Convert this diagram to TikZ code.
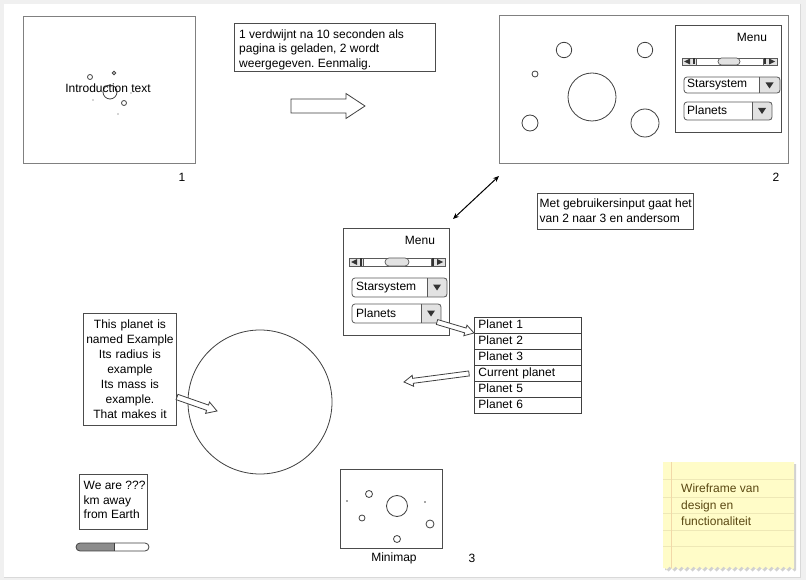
\documentclass[tikz,border=0pt]{standalone}
\usepackage{fontspec}
\setmainfont{Liberation Sans}
\usetikzlibrary{calc,arrows.meta,decorations.pathmorphing}
\definecolor{btngray}{HTML}{E2E2E2}
\definecolor{notefill}{HTML}{FFFCC8}
\definecolor{noteline}{HTML}{EEE8B6}
\definecolor{notemargin}{HTML}{F2D8A8}
\definecolor{notetext}{HTML}{5A4812}
\frenchspacing
% hollow block arrow: from, to, shaft half width, head half width, head length
\newcommand{\hollowarrow}[5]{%
  \coordinate (ha-h) at ($(#2)!#5!(#1)$);
  \draw[black!75,fill=white,line width=0.8pt,line join=miter]
    ($(#1)!#3!90:(#2)$) -- ($(ha-h)!#3!-90:(#1)$) -- ($(ha-h)!#4!-90:(#1)$) -- (#2)
    -- ($(ha-h)!#4!90:(#1)$) -- ($(ha-h)!#3!90:(#1)$) -- ($(#1)!#3!-90:(#2)$) -- cycle;
}

\begin{document}
\begin{tikzpicture}[x=1pt,y=-1pt,font=\fontsize{12}{14.5}\selectfont]
\useasboundingbox (0,0) rectangle (806,580);
%page
\fill[black!6] (0,0) rectangle (806,580);
\fill[white] (4,4) rectangle (800,577);
\draw[black!15] (800,4) -- (800,577) -- (4,577);
\tikzstyle{screen}=[rectangle,draw=black!50,line width=1.4pt,anchor=north west,inner sep=0pt]
\tikzstyle{box}=[rectangle,draw=black!70,line width=0.9pt,anchor=north west,inner sep=0pt]
\tikzstyle{txt}=[anchor=north west,inner sep=0pt,align=left]
\tikzstyle{planet}=[draw=black!75,line width=0.8pt]
\tikzstyle{btn}=[draw=black!65,line width=0.7pt,fill=btngray]
\tikzstyle{drop}=[draw=black!65,line width=0.8pt,rounded corners=3pt]
\tikzstyle{listrow}=[rectangle,draw=black!75,line width=0.9pt,anchor=north west,inner xsep=4pt,inner ysep=2pt,text height=9pt,text depth=3pt,text width=99pt,minimum height=16pt,align=left]
\tikzstyle{label}=[inner sep=0pt]
\tikzstyle{tri}=[fill=black!80]

% screen 1
\node[screen,minimum width=172pt,minimum height=147pt] (S1) at (23,16) {};
\node[label] (N1) at (182,177) {1};
\draw[planet] (90,77) circle[radius=2.5] (114,73) circle[radius=1.8] (110,92) circle[radius=7] (124,103) circle[radius=2.5];
\fill[black!70] (93,100) circle[radius=0.7] (118,114) circle[radius=0.7] (131,93) circle[radius=0.7];
\node[label] (intro) at (108,88) {Introduction text};
\node[box,minimum width=201pt,minimum height=48pt] (T1) at (234,23) {};
\node[txt] (t1) at (239,29.6) {1 verdwijnt na 10 seconden als\\pagina is geladen, 2 wordt\\weergegeven. Eenmalig.};
\coordinate (A1) at (291,106);
\coordinate (A2) at (365,106);
\hollowarrow{A1}{A2}{7pt}{12.5pt}{19pt}

% screen 2
\node[screen,minimum width=289pt,minimum height=148pt] (S2) at (499,15) {};
\node[label] (N2) at (776,177) {2};
\draw[planet] (564,50) circle[radius=7.7] (645,50) circle[radius=7.7] (535,74) circle[radius=3] (592,97) circle[radius=24] (530,123) circle[radius=8] (645,123) circle[radius=14];
\node[box,minimum width=106pt,minimum height=107pt] (M2) at (675,25) {};
\node[label] (menu2) at (752,37) {Menu};
\draw[btn,fill=white] (682,58) rectangle (777,65);
\draw[btn] (682,58) rectangle (696,65);
\draw[btn] (763,58) rectangle (777,65);
\fill[tri] (684,61.5) -- (690,58.5) -- (690,64.5) -- cycle;
\draw[black!80,line width=1.5pt] (694,58.5) -- (694,64.5);
\fill[tri] (775,61.5) -- (769,58.5) -- (769,64.5) -- cycle;
\draw[black!80,line width=1.5pt] (765,58.5) -- (765,64.5);
\draw[btn,rounded corners=3.5pt] (718,58) rectangle (740,65);
\fill[btngray] (759,77) rectangle (780,93);
\draw[drop] (684,77) rectangle (780,93);
\draw[drop] (759,77) -- (759,93);
\fill[tri] (765.5,82.5) -- (773.5,82.5) -- (769.5,88.5) -- cycle;
\node[label,anchor=west] (star2) at (687,85) {Starsystem};
\fill[btngray] (752,102) rectangle (772,120);
\draw[drop] (684,102) rectangle (772,120);
\draw[drop] (752,102) -- (752,120);
\fill[tri] (758,108) -- (766,108) -- (762,114) -- cycle;
\node[label,anchor=west] (plan2) at (687,110) {Planets};

% switch 2 <-> 3
\coordinate (D1) at (499,176);
\coordinate (D2) at (453,219);
\draw[{Stealth[length=6pt,width=5pt]}-{Stealth[length=6pt,width=5pt]},line width=1pt] (D1) -- (D2);
\node[box,minimum width=156pt,minimum height=36pt] (T2) at (537,193) {};
\node[txt,font=\fontsize{12}{15}\selectfont] (t2) at (539.5,199) {Met gebruikersinput gaat het\\van 2 naar 3 en andersom};

% screen 3
\node[box,minimum width=106pt,minimum height=107pt] (M3) at (343,228) {};
\node[label] (menu3) at (420,240) {Menu};
\draw[btn,fill=white] (349,258) rectangle (445,266);
\draw[btn] (349,258) rectangle (363,266);
\draw[btn] (431,258) rectangle (445,266);
\fill[tri] (351,262) -- (357,259) -- (357,265) -- cycle;
\draw[black!80,line width=1.5pt] (361,258.5) -- (361,265.5);
\fill[tri] (443,262) -- (437,259) -- (437,265) -- cycle;
\draw[black!80,line width=1.5pt] (433,258.5) -- (433,265.5);
\draw[btn,rounded corners=4pt] (385,258) rectangle (409,266);
\fill[btngray] (427,278) rectangle (447,297);
\draw[drop] (352,278) rectangle (447,297);
\draw[drop] (427,278) -- (427,297);
\fill[tri] (433,284.5) -- (441,284.5) -- (437,290.5) -- cycle;
\node[label,anchor=west] (star3) at (356,287.5) {Starsystem};
\fill[btngray] (421,304) rectangle (441,323);
\draw[drop] (352,304) rectangle (441,323);
\draw[drop] (421,304) -- (421,323);
\fill[tri] (427,310.5) -- (435,310.5) -- (431,316.5) -- cycle;
\node[label,anchor=west] (plan3) at (356,313.5) {Planets};

\node[listrow] (L1) at (474,317) {Planet 1};
\node[listrow] (L2) at (474,333) {Planet 2};
\node[listrow] (L3) at (474,349) {Planet 3};
\node[listrow] (L4) at (474,365) {Current planet};
\node[listrow] (L5) at (474,381) {Planet 5};
\node[listrow] (L6) at (474,397) {Planet 6};
\coordinate (P1) at (437,322);
\coordinate (P2) at (L2.north west);
\hollowarrow{P1}{P2}{2.5pt}{5.5pt}{9pt}
\coordinate (C1) at ($(L4.west)+(-5,0)$);
\coordinate (C2) at (404,382);
\hollowarrow{C1}{C2}{2.5pt}{5.5pt}{9pt}

\node[circle,planet,minimum size=144pt,inner sep=0pt] (big) at (260,402) {};
\node[box,text width=91pt,inner sep=1pt,minimum height=112pt,align=center,font=\fontsize{12}{15}\selectfont] (info) at (83,313) {This planet is\\named Example\\Its radius is\\example\\Its mass is\\example.\\That makes it};
\coordinate (I1) at (177,397);
\coordinate (I2) at (217,411);
\hollowarrow{I1}{I2}{2.8pt}{6pt}{10pt}

\node[box,minimum width=68pt,minimum height=55pt] (dist) at (79,474) {};
\node[txt] (d1) at (83.5,481.3) {We are ???\\km away\\from Earth};
\begin{scope}
\clip[rounded corners=4pt] (76,543) rectangle (149,551);
\fill[black!45] (76,543) rectangle (114,551);
\end{scope}
\draw[black!75,line width=0.8pt,rounded corners=4pt] (76,543) rectangle (149,551);
\draw[black!75,line width=0.8pt] (114,543) -- (114,551);

\node[box,minimum width=102pt,minimum height=79pt] (mini) at (340,469) {};
\draw[planet] (397,506) circle[radius=10.5] (369,494) circle[radius=3.5] (362,518) circle[radius=3] (430,524) circle[radius=4] (397,539) circle[radius=3.5];
\fill[black!70] (347,501) circle[radius=0.8] (425,502) circle[radius=0.8];
\node[label] (minilab) at (394,558) {Minimap};
\node[label] (N3) at (472,558) {3};

% sticky note
\fill[black!18] (665,464) -- (796,464) -- (796,570) decorate[decoration={zigzag,segment length=6pt,amplitude=1.5pt}]{-- (665,570)} -- cycle;
\fill[notefill] (663,462) -- (794,462) -- (794,568) decorate[decoration={zigzag,segment length=6pt,amplitude=1.5pt}]{-- (663,568)} -- cycle;
\draw[noteline,line width=0.8pt] (663,479) -- (794,479) (663,497) -- (794,497) (663,513) -- (794,513) (663,530) -- (794,530) (663,546) -- (794,546);
\draw[notemargin,line width=0.8pt] (671,462) -- (671,568);
\node[txt,text=notetext,font=\fontsize{12}{16.5}\selectfont] (wire) at (681,484) {Wireframe van\\design en\\functionaliteit};
\end{tikzpicture}
\end{document}
